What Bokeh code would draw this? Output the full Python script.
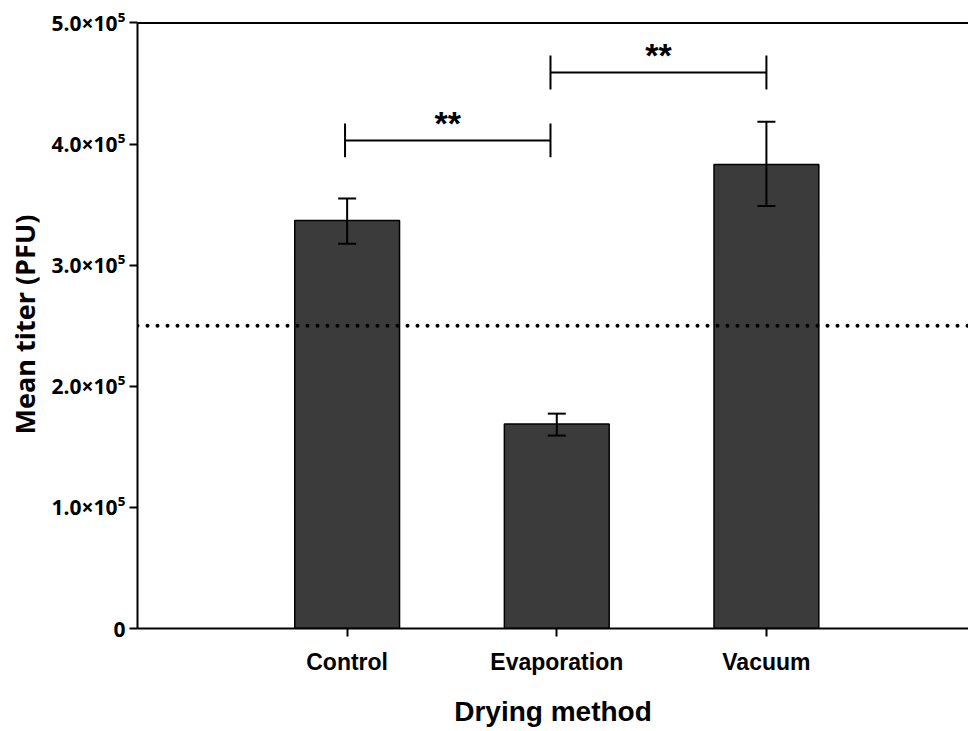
from bokeh.plotting import figure
from bokeh.models import ColumnDataSource, Whisker, TeeHead, Span, FixedTicker, Range1d
from bokeh.core.properties import value
from bokeh.embed import file_html
from bokeh.resources import INLINE

categories = ["Control", "Evaporation", "Vacuum"]
positions = [1, 2, 3]
mean_titer = [336900, 168800, 383200]
err_upper = [355100, 177400, 418400]
err_lower = [317600, 159300, 348800]
threshold = 250000
y_ticks = [0, 100000, 200000, 300000, 400000, 500000]
y_tick_labels = ["0", "1.0×10⁵", "2.0×10⁵", "3.0×10⁵", "4.0×10⁵", "5.0×10⁵"]

# significance brackets: (x start, x end, height, label)
bracket_x0 = [0.99, 1.97]
bracket_x1 = [1.97, 3.0]
bracket_y = [403000, 459000]
bracket_label = ["**", "**"]
bracket_tick = 14000

p = figure(width=968, height=731, output_backend="svg", toolbar_location=None,
           x_range=Range1d(0, 3.964), y_range=Range1d(0, 502000),
           min_border_left=137, min_border_right=0, min_border_top=20, min_border_bottom=103)
p.outline_line_color = None
p.xgrid.grid_line_color = None
p.ygrid.grid_line_color = None
p.background_fill_color = "white"
p.border_fill_color = "white"

src = ColumnDataSource(dict(x=positions, top=mean_titer, upper=err_upper, lower=err_lower))
p.vbar(x="x", top="top", width=0.5, source=src, fill_color="#3b3b3b",
       line_color="black", line_width=1.5)

w = Whisker(base="x", upper="upper", lower="lower", source=src, level="overlay",
            line_color="black", line_width=2,
            upper_head=TeeHead(size=18, line_color="black", line_width=2),
            lower_head=TeeHead(size=18, line_color="black", line_width=2))
p.add_layout(w)

# top border line
p.add_layout(Span(location=500000, dimension="width", line_color="black", line_width=2))

# threshold dotted line
p.add_layout(Span(location=threshold, dimension="width", line_color="black",
                  line_width=4, line_dash="0 10", line_cap="round", level="overlay"))

# brackets
bsrc = ColumnDataSource(dict(x0=bracket_x0, x1=bracket_x1, y=bracket_y,
                             yb=[v - bracket_tick for v in bracket_y],
                             yt=[v + bracket_tick for v in bracket_y],
                             xm=[(a + b) / 2 for a, b in zip(bracket_x0, bracket_x1)],
                             ys=[v - 1000 for v in bracket_y],
                             lab=bracket_label))
p.segment(x0="x0", y0="y", x1="x1", y1="y", source=bsrc, line_color="black", line_width=2)
p.segment(x0="x0", y0="yb", x1="x0", y1="yt", source=bsrc, line_color="black", line_width=2)
p.segment(x0="x1", y0="yb", x1="x1", y1="yt", source=bsrc, line_color="black", line_width=2)
p.text(x="xm", y="ys", text="lab", source=bsrc, text_align="center", text_baseline="bottom",
       text_font=value("Liberation Sans"), text_font_style="bold", text_font_size="34px",
       text_color="black")

# axes
p.xaxis.ticker = FixedTicker(ticks=positions)
p.xaxis.major_label_overrides = {pos: c for pos, c in zip(positions, categories)}
p.yaxis.ticker = FixedTicker(ticks=y_ticks)
p.yaxis.major_label_overrides = {t: l for t, l in zip(y_ticks, y_tick_labels)}
p.yaxis.bounds = (0, 500000)
for ax in (p.xaxis, p.yaxis):
    ax.axis_line_width = 2
    ax.axis_line_color = "black"
    ax.major_tick_line_width = 2
    ax.major_tick_line_color = "black"
    ax.major_tick_in = 0
    ax.major_tick_out = 8
    ax.minor_tick_line_color = None
    ax.major_label_text_color = "black"
    ax.axis_label_text_color = "black"
    ax.axis_label_text_font_style = "bold"
    ax.major_label_text_font_style = "bold"

p.xaxis.axis_label = "Drying method"
p.xaxis.axis_label_text_font = "Liberation Sans"
p.xaxis.axis_label_text_font_size = "28px"
p.xaxis.major_label_text_font = "Liberation Sans"
p.xaxis.major_label_text_font_size = "23px"
p.xaxis.major_label_standoff = 12
p.xaxis.axis_label_standoff = 18

p.yaxis.axis_label = "Mean titer (PFU)"
p.yaxis.axis_label_text_font = "Open Sans"
p.yaxis.axis_label_text_font_size = "27px"
p.yaxis.major_label_text_font = "Open Sans"
p.yaxis.major_label_text_font_size = "21px"
p.yaxis.major_label_standoff = 4
p.yaxis.axis_label_standoff = 6

open("out.html", "w").write(file_html(p, INLINE))
